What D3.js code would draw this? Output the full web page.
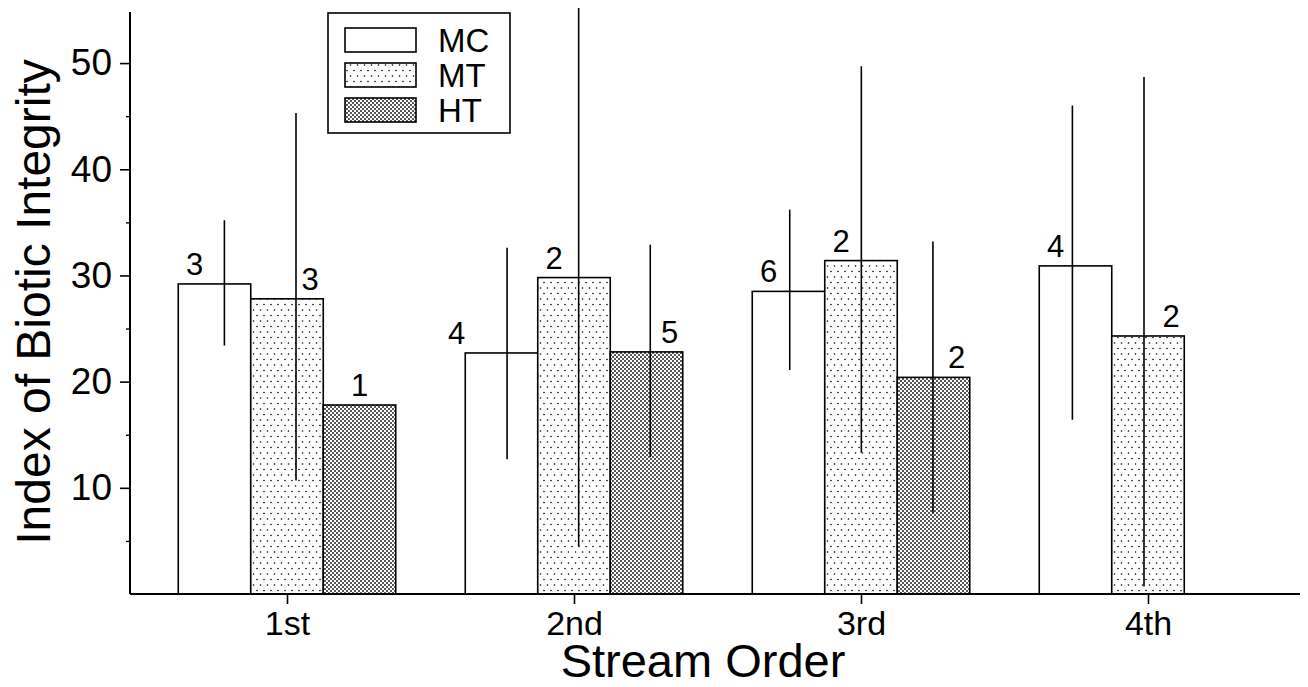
<!DOCTYPE html>
<html>
<head>
<meta charset="utf-8">
<script src="https://cdn.jsdelivr.net/npm/d3@7"></script>
<style>
  html, body { margin: 0; padding: 0; background: #fff; }
  svg { display: block; }
  text { font-family: "Liberation Sans", Arial, Helvetica, sans-serif; fill: #000; }
</style>
</head>
<body>
<svg id="chart" width="1308" height="687"></svg>
<script>
// ---- data ----
const categories = ["1st", "2nd", "3rd", "4th"];
const seriesNames = ["MC", "MT", "HT"];

const meanMC = [29.2, 22.7, 28.5, 30.9];
const meanMT = [27.8, 29.8, 31.4, 24.3];
const meanHT = [17.8, 22.8, 20.4, null];

const lowMC = [23.4, 12.7, 21.1, 16.4];
const highMC = [35.2, 32.6, 36.2, 46.0];
const lowMT = [10.7, 4.5, 13.3, 0.7];
const highMT = [45.3, 55.2, 49.7, 48.7];
const lowHT = [null, 12.9, 7.6, null];
const highHT = [null, 32.9, 33.2, null];

const countMC = [3, 4, 6, 4];
const countMT = [3, 2, 2, 2];
const countHT = [1, 5, 2, null];

// which side of the bar the count label sits on
const sideMC = ["L", "LL", "L", "L"];
const sideMT = ["R", "L", "L", "R"];
const sideHT = ["C", "R", "R", null];

const yMajorTicks = [10, 20, 30, 40, 50];
const yMinorTicks = [5, 15, 25, 35, 45];

const yTitle = "Index of Biotic Integrity";
const xTitle = "Stream Order";

// ---- build table ----
const means = { MC: meanMC, MT: meanMT, HT: meanHT };
const lows = { MC: lowMC, MT: lowMT, HT: lowHT };
const highs = { MC: highMC, MT: highMT, HT: highHT };
const counts = { MC: countMC, MT: countMT, HT: countHT };
const sides = { MC: sideMC, MT: sideMT, HT: sideHT };

const rows = [];
categories.forEach((c, i) => {
  seriesNames.forEach(s => {
    if (means[s][i] != null) {
      rows.push({ cat: c, series: s, mean: means[s][i], lo: lows[s][i], hi: highs[s][i], n: counts[s][i], side: sides[s][i] });
    }
  });
});

// ---- layout ----
const svg = d3.select("#chart");
const axisX0 = 130, axisX1 = 1300, axisY0 = 594;

const y = d3.scaleLinear().domain([0, 55]).range([axisY0, 10]);
const x = d3.scalePoint().domain(categories).range([287, 1148]);
const xs = d3.scaleBand().domain(seriesNames).range([-108.75, 108.75]);
// error bars were drawn on a slightly different horizontal registration in the original
const xErr = d3.scalePoint().domain(categories).range([296, 1144]);
const xsErr = d3.scaleBand().domain(seriesNames).range([-107.4, 107.4]);

// ---- patterns ----
const defs = svg.append("defs");
const pMT = defs.append("pattern").attr("id", "patMT").attr("patternUnits", "userSpaceOnUse")
  .attr("width", 7).attr("height", 11);
pMT.append("rect").attr("width", 7).attr("height", 11).attr("fill", "#fff");
pMT.append("circle").attr("cx", 1.5).attr("cy", 2).attr("r", 0.8).attr("fill", "#000");
pMT.append("circle").attr("cx", 5).attr("cy", 7.5).attr("r", 0.8).attr("fill", "#000");

const pHT = defs.append("pattern").attr("id", "patHT").attr("patternUnits", "userSpaceOnUse")
  .attr("width", 4).attr("height", 4);
pHT.append("rect").attr("width", 4).attr("height", 4).attr("fill", "#fff");
pHT.append("circle").attr("cx", 1).attr("cy", 1).attr("r", 0.95).attr("fill", "#111");
pHT.append("circle").attr("cx", 3).attr("cy", 3).attr("r", 0.95).attr("fill", "#111");

const fills = { MC: "#fff", MT: "url(#patMT)", HT: "url(#patHT)" };

// ---- bars ----
svg.append("g").selectAll("rect").data(rows).join("rect")
  .attr("x", d => x(d.cat) + xs(d.series))
  .attr("y", d => y(d.mean))
  .attr("width", xs.bandwidth())
  .attr("height", d => y(0) - y(d.mean))
  .attr("fill", d => fills[d.series])
  .attr("stroke", "#000")
  .attr("stroke-width", 1.6);

// ---- error bars ----
svg.append("g").selectAll("line").data(rows.filter(d => d.lo != null)).join("line")
  .attr("x1", d => xErr(d.cat) + xsErr(d.series) + xsErr.bandwidth() / 2)
  .attr("x2", d => xErr(d.cat) + xsErr(d.series) + xsErr.bandwidth() / 2)
  .attr("y1", d => y(d.lo))
  .attr("y2", d => y(d.hi))
  .attr("stroke", "#000")
  .attr("stroke-width", 1.6);

// ---- count labels ----
const sideOffset = { L: -20, LL: -45, R: 23, C: 0 };
svg.append("g").selectAll("text").data(rows).join("text")
  .attr("x", d => x(d.cat) + xs(d.series) + xs.bandwidth() / 2 + sideOffset[d.side])
  .attr("y", d => y(d.mean) - 9)
  .attr("text-anchor", "middle")
  .attr("font-size", 31)
  .text(d => d.n);

// ---- y axis ----
const yAxisG = svg.append("g").attr("transform", `translate(${axisX0},0)`)
  .call(d3.axisLeft(y).tickValues(yMajorTicks).tickSize(10).tickPadding(8).tickFormat(d3.format("d")));
yAxisG.select(".domain").remove();
yAxisG.selectAll(".tick line").attr("stroke", "#000").attr("stroke-width", 1.6);
yAxisG.selectAll(".tick text").attr("font-size", 37).attr("fill", "#000")
  .style("font-family", "'Liberation Sans', Arial, sans-serif");
const yMinorG = svg.append("g").attr("transform", `translate(${axisX0},0)`)
  .call(d3.axisLeft(y).tickValues(yMinorTicks).tickSize(4).tickFormat(""));
yMinorG.select(".domain").remove();
yMinorG.selectAll(".tick line").attr("stroke", "#000").attr("stroke-width", 1.4);

svg.append("line").attr("x1", axisX0).attr("x2", axisX0).attr("y1", y(0)).attr("y2", y(54.8))
  .attr("stroke", "#000").attr("stroke-width", 2);

// ---- x axis ----
const xAxisG = svg.append("g").attr("transform", `translate(0,${axisY0})`)
  .call(d3.axisBottom(x).tickSize(10).tickPadding(7));
xAxisG.select(".domain").remove();
xAxisG.selectAll(".tick line").attr("stroke", "#000").attr("stroke-width", 1.6);
xAxisG.selectAll(".tick text").attr("font-size", 34).attr("fill", "#000")
  .style("font-family", "'Liberation Sans', Arial, sans-serif");

svg.append("line").attr("x1", axisX0).attr("x2", axisX1).attr("y1", axisY0).attr("y2", axisY0)
  .attr("stroke", "#000").attr("stroke-width", 2);

// ---- titles ----
svg.append("text")
  .attr("transform", `translate(50,${(axisY0 + 10) / 2}) rotate(-90)`)
  .attr("text-anchor", "middle")
  .attr("font-size", 48)
  .text(yTitle);

svg.append("text")
  .attr("x", 703).attr("y", 677)
  .attr("text-anchor", "middle")
  .attr("font-size", 47)
  .text(xTitle);

// ---- legend ----
const legend = svg.append("g").attr("transform", "translate(328,13)");
legend.append("rect").attr("width", 182).attr("height", 120)
  .attr("fill", "#fff").attr("stroke", "#000").attr("stroke-width", 1.6);
const li = legend.selectAll("g.item").data(seriesNames).join("g")
  .attr("class", "item")
  .attr("transform", (d, i) => `translate(0,${15 + i * 35})`);
li.append("rect").attr("x", 17).attr("y", 0).attr("width", 71).attr("height", 24)
  .attr("fill", d => fills[d]).attr("stroke", "#000").attr("stroke-width", 1.6);
li.append("text").attr("x", 110).attr("y", 24).attr("font-size", 33).text(d => d);
</script>
</body>
</html>
